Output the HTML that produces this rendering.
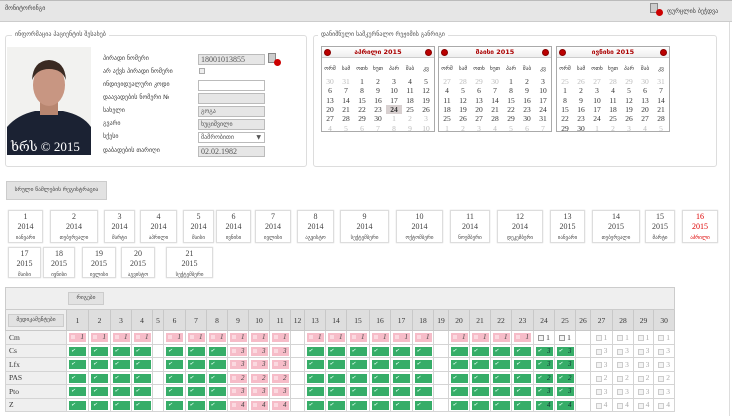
<!DOCTYPE html>
<html><head><meta charset="utf-8">
<style>
*{box-sizing:border-box;margin:0;padding:0}
body{width:732px;height:416px;background:#fff;position:relative;overflow:hidden;font-family:"DejaVu Sans","Liberation Sans",sans-serif;color:#333}
.a{position:absolute}
.g{font-family:"DejaVu Sans",sans-serif;font-size:6px;color:#444;white-space:nowrap}
.fs{position:absolute;border:1px solid #ddd;border-radius:3px}
.lg{position:absolute;top:-5px;background:#fff;padding:0 3px;font-size:6px;color:#555;white-space:nowrap}
.inp{position:absolute;left:198px;width:67px;height:11px;border:1px solid #bbb;background:#e6e6e6;font-family:"Liberation Serif",serif;font-size:8px;line-height:9px;padding-left:2px;color:#555}
.lbl{position:absolute;left:103px;font-size:6px;color:#444;white-space:nowrap}
.cal{position:absolute;top:46px;width:114px;height:86px;border:1px solid #aaa;background:#fff}
.ch{height:11px;background:linear-gradient(#fff,#eee);border-bottom:1px solid #ccc;text-align:center;font-family:"DejaVu Sans",sans-serif;font-size:6.5px;font-weight:bold;color:#a00;line-height:11px;position:relative}
.ch i{position:absolute;top:2px;width:7px;height:7px;border-radius:50%;background:#b00;border:1px solid #800}
.cal table{border-collapse:collapse;width:112px;margin-top:3px}
.cal td{width:16px;text-align:center;font-family:"Liberation Serif",serif;font-size:7.5px;height:9.3px;line-height:9px;color:#333}
.cal tr.w td{font-family:"DejaVu Sans",sans-serif;font-size:5.5px;height:16px;color:#333}
.cal td.o{color:#bbb}
.cal td.s{background:#d8d0d0;font-weight:bold}
.mt{position:absolute;border:1px solid #ddd;text-align:center;font-family:"Liberation Serif",serif;font-size:8px;line-height:10px;color:#444;padding-top:1px;box-shadow:0 0 1px #ccc}
.mt span{font-family:"DejaVu Sans",sans-serif;font-size:5px}
.mt.r{color:#d00}
table.t{position:absolute;left:5px;top:287px;border-collapse:collapse;table-layout:fixed;width:670px}
table.t td{border:1px solid #d4d4d4;padding:0;font-family:"Liberation Serif",serif;font-size:7.5px;text-align:center;overflow:hidden}
table.t tr.h td{background:#dedede;height:21px;border-color:#c8c8c8}
table.t tr.d td{height:13.5px}
table.t tr.d td.l{background:#efefef;text-align:left;padding-left:3px;color:#333}
.p,.gr{display:inline-block;width:17px;height:9px;vertical-align:middle;position:relative;text-align:right;padding-right:2px;font-size:7px;line-height:9px;color:#444}
.p{background:#f6bcc8}
.p:before{content:"";position:absolute;left:2px;top:2px;width:4px;height:4px;background:#fbd9e0}
.gr{background:#36ad68;color:#133}
.gr:before{content:"✔";position:absolute;left:2px;top:0;font-size:5px;color:#dfe}
.cb{display:inline-block;width:6px;height:6px;border:1px solid #999;background:#f4f4f4;vertical-align:middle;margin-right:2px}
.f{color:#aaa}.f .cb{border-color:#ccc}
.btn{position:absolute;background:#e2e2e2;border:1px solid #ccc;font-size:5.5px;color:#444;white-space:nowrap;text-align:center}
</style></head><body>
<div class="a" style="left:0;top:0;width:732px;height:22px;background:#e6e6e6;border-bottom:1px solid #ccc;border-top:1px solid #bbb"></div>
<div class="a g" style="left:5px;top:5px">მონიტორინგი</div>
<div class="a" style="left:650px;top:3px;width:8px;height:10px;border:1px solid #888;background:#ccc"></div>
<div class="a" style="left:656px;top:9px;width:7px;height:7px;border-radius:50%;background:#c00"></div>
<div class="a g" style="left:667px;top:8px">ფურცლის ბეჭდვა</div>
<div class="a" style="left:729px;top:22px;width:1px;height:394px;background:#ddd"></div>

<div class="fs" style="left:5px;top:35px;width:302px;height:132px"><div class="lg" style="left:6px">ინფორმაცია პაციენტის შესახებ</div></div>
<svg class="a" style="left:7px;top:47px" width="84" height="108" viewBox="0 0 84 108">
<rect width="84" height="108" fill="#f2f2f0"/>
<path d="M0 108 L0 80 Q10 68 28 64 L56 64 Q76 68 84 80 L84 108Z" fill="#1b2233"/>
<rect x="33" y="54" width="18" height="14" fill="#b88670"/>
<ellipse cx="42" cy="38" rx="16" ry="21" fill="#c89682"/>
<path d="M25 33 Q26 14 42 13 Q58 14 59 33 Q55 22 42 22 Q30 22 25 33Z" fill="#3a2a22"/>
<text x="4" y="104" font-family="Liberation Serif,DejaVu Serif,serif" font-size="13" fill="#fff">ხრს © 2015</text>
</svg>
<div class="lbl" style="top:55px">პირადი ნომერი</div>
<div class="lbl" style="top:68px">არ აქვს პირადი ნომერი</div>
<div class="lbl" style="top:81px">ინდივიდუალური კოდი</div>
<div class="lbl" style="top:94px">დაავადების ნომერი №</div>
<div class="lbl" style="top:107px">სახელი</div>
<div class="lbl" style="top:120px">გვარი</div>
<div class="lbl" style="top:133px">სქესი</div>
<div class="lbl" style="top:147px">დაბადების თარიღი</div>
<div class="inp" style="top:54px">18001013855</div>
<div class="a" style="left:268px;top:53px;width:8px;height:10px;border:1px solid #888;background:#ccc"></div>
<div class="a" style="left:274px;top:59px;width:7px;height:7px;border-radius:50%;background:#c00"></div>
<div class="a" style="left:199px;top:68px;width:6px;height:6px;border:1px solid #aaa;background:#eee"></div>
<div class="inp" style="top:80px;background:#fff"></div>
<div class="inp" style="top:93px"></div>
<div class="inp" style="top:106px;font-family:'DejaVu Sans';font-size:6px">გოგა</div>
<div class="inp" style="top:119px;font-family:'DejaVu Sans';font-size:6px">ხუციშვილი</div>
<div class="inp" style="top:132px;background:#fff;font-family:'DejaVu Sans';font-size:6px">მამრობითი<span style="position:absolute;right:3px;font-size:6px">▼</span></div>
<div class="inp" style="top:146px">02.02.1982</div>

<div class="fs" style="left:313px;top:35px;width:404px;height:132px"><div class="lg" style="left:4px">დანიშნული სამკურნალო რეჟიმის განრიგი</div></div>

<div class="cal" style="left:321px"><div class="ch"><i style="left:2px"></i>აპრილი 2015<i style="right:2px"></i></div>
<table><tr class="w"><td>ორშ</td><td>სამ</td><td>ოთხ</td><td>ხუთ</td><td>პარ</td><td>შაბ</td><td>კვ</td></tr>
<tr><td class="o">30</td><td class="o">31</td><td>1</td><td>2</td><td>3</td><td>4</td><td>5</td></tr>
<tr><td>6</td><td>7</td><td>8</td><td>9</td><td>10</td><td>11</td><td>12</td></tr>
<tr><td>13</td><td>14</td><td>15</td><td>16</td><td>17</td><td>18</td><td>19</td></tr>
<tr><td>20</td><td>21</td><td>22</td><td>23</td><td class="s">24</td><td>25</td><td>26</td></tr>
<tr><td>27</td><td>28</td><td>29</td><td>30</td><td class="o">1</td><td class="o">2</td><td class="o">3</td></tr>
<tr><td class="o">4</td><td class="o">5</td><td class="o">6</td><td class="o">7</td><td class="o">8</td><td class="o">9</td><td class="o">10</td></tr></table></div>

<div class="cal" style="left:438px"><div class="ch"><i style="left:2px"></i>მაისი 2015<i style="right:2px"></i></div>
<table><tr class="w"><td>ორშ</td><td>სამ</td><td>ოთხ</td><td>ხუთ</td><td>პარ</td><td>შაბ</td><td>კვ</td></tr>
<tr><td class="o">27</td><td class="o">28</td><td class="o">29</td><td class="o">30</td><td>1</td><td>2</td><td>3</td></tr>
<tr><td>4</td><td>5</td><td>6</td><td>7</td><td>8</td><td>9</td><td>10</td></tr>
<tr><td>11</td><td>12</td><td>13</td><td>14</td><td>15</td><td>16</td><td>17</td></tr>
<tr><td>18</td><td>19</td><td>20</td><td>21</td><td>22</td><td>23</td><td>24</td></tr>
<tr><td>25</td><td>26</td><td>27</td><td>28</td><td>29</td><td>30</td><td>31</td></tr>
<tr><td class="o">1</td><td class="o">2</td><td class="o">3</td><td class="o">4</td><td class="o">5</td><td class="o">6</td><td class="o">7</td></tr></table></div>

<div class="cal" style="left:556px"><div class="ch"><i style="left:2px"></i>ივნისი 2015<i style="right:2px"></i></div>
<table><tr class="w"><td>ორშ</td><td>სამ</td><td>ოთხ</td><td>ხუთ</td><td>პარ</td><td>შაბ</td><td>კვ</td></tr>
<tr><td class="o">25</td><td class="o">26</td><td class="o">27</td><td class="o">28</td><td class="o">29</td><td class="o">30</td><td class="o">31</td></tr>
<tr><td>1</td><td>2</td><td>3</td><td>4</td><td>5</td><td>6</td><td>7</td></tr>
<tr><td>8</td><td>9</td><td>10</td><td>11</td><td>12</td><td>13</td><td>14</td></tr>
<tr><td>15</td><td>16</td><td>17</td><td>18</td><td>19</td><td>20</td><td>21</td></tr>
<tr><td>22</td><td>23</td><td>24</td><td>25</td><td>26</td><td>27</td><td>28</td></tr>
<tr><td>29</td><td>30</td><td class="o">1</td><td class="o">2</td><td class="o">3</td><td class="o">4</td><td class="o">5</td></tr></table></div>

<div class="btn" style="left:6px;top:181px;width:101px;height:19px;line-height:17px">სრული წამლების რეგისტრაცია</div>

<div class="mt" style="left:8px;top:210px;width:35px;height:33px">1<br>2014<br><span>იანვარი</span></div>
<div class="mt" style="left:50px;top:210px;width:48px;height:33px">2<br>2014<br><span>თებერვალი</span></div>
<div class="mt" style="left:104px;top:210px;width:31px;height:33px">3<br>2014<br><span>მარტი</span></div>
<div class="mt" style="left:140px;top:210px;width:37px;height:33px">4<br>2014<br><span>აპრილი</span></div>
<div class="mt" style="left:183px;top:210px;width:31px;height:33px">5<br>2014<br><span>მაისი</span></div>
<div class="mt" style="left:216px;top:210px;width:35px;height:33px">6<br>2014<br><span>ივნისი</span></div>
<div class="mt" style="left:255px;top:210px;width:36px;height:33px">7<br>2014<br><span>ივლისი</span></div>
<div class="mt" style="left:297px;top:210px;width:37px;height:33px">8<br>2014<br><span>აგვისტო</span></div>
<div class="mt" style="left:340px;top:210px;width:49px;height:33px">9<br>2014<br><span>სექტემბერი</span></div>
<div class="mt" style="left:396px;top:210px;width:47px;height:33px">10<br>2014<br><span>ოქტომბერი</span></div>
<div class="mt" style="left:450px;top:210px;width:40px;height:33px">11<br>2014<br><span>ნოემბერი</span></div>
<div class="mt" style="left:497px;top:210px;width:46px;height:33px">12<br>2014<br><span>დეკემბერი</span></div>
<div class="mt" style="left:550px;top:210px;width:35px;height:33px">13<br>2015<br><span>იანვარი</span></div>
<div class="mt" style="left:592px;top:210px;width:48px;height:33px">14<br>2015<br><span>თებერვალი</span></div>
<div class="mt" style="left:645px;top:210px;width:30px;height:33px">15<br>2015<br><span>მარტი</span></div>
<div class="mt r" style="left:682px;top:210px;width:36px;height:33px">16<br>2015<br><span>აპრილი</span></div>
<div class="mt" style="left:8px;top:247px;width:33px;height:31px">17<br>2015<br><span>მაისი</span></div>
<div class="mt" style="left:43px;top:247px;width:32px;height:31px">18<br>2015<br><span>ივნისი</span></div>
<div class="mt" style="left:82px;top:247px;width:34px;height:31px">19<br>2015<br><span>ივლისი</span></div>
<div class="mt" style="left:121px;top:247px;width:34px;height:31px">20<br>2015<br><span>აგვისტო</span></div>
<div class="mt" style="left:166px;top:247px;width:47px;height:31px">21<br>2015<br><span>სექტემბერი</span></div>

<table class="t">
<colgroup><col style="width:61px"><col style="width:22px"><col style="width:22px"><col style="width:21px"><col style="width:21px"><col style="width:11px"><col style="width:22px"><col style="width:21px"><col style="width:21px"><col style="width:21px"><col style="width:21px"><col style="width:21px"><col style="width:14px"><col style="width:21px"><col style="width:21px"><col style="width:23px"><col style="width:21px"><col style="width:22px"><col style="width:21px"><col style="width:15px"><col style="width:21px"><col style="width:21px"><col style="width:21px"><col style="width:22px"><col style="width:21px"><col style="width:21px"><col style="width:15px"><col style="width:22px"><col style="width:21px"><col style="width:20px"><col style="width:21px"></colgroup>
<tr><td colspan="31" style="height:22px;background:#efefef;text-align:left;border-color:#ccc"><span class="btn" style="position:relative;display:inline-block;left:62px;width:36px;height:13px;line-height:11px">რიგები</span></td></tr>
<tr class="h"><td style="background:#efefef"><span class="btn" style="position:relative;display:inline-block;width:56px;height:13px;line-height:11px">მედიკამენტები</span></td><td>1</td><td>2</td><td>3</td><td>4</td><td>5</td><td>6</td><td>7</td><td>8</td><td>9</td><td>10</td><td>11</td><td>12</td><td>13</td><td>14</td><td>15</td><td>16</td><td>17</td><td>18</td><td>19</td><td>20</td><td>21</td><td>22</td><td>23</td><td>24</td><td>25</td><td>26</td><td>27</td><td>28</td><td>29</td><td>30</td></tr>
<tr class="d"><td class="l">Cm</td><td><i class="p">1</i></td><td><i class="p">1</i></td><td><i class="p">1</i></td><td><i class="p">1</i></td><td></td><td><i class="p">1</i></td><td><i class="p">1</i></td><td><i class="p">1</i></td><td><i class="p">1</i></td><td><i class="p">1</i></td><td><i class="p">1</i></td><td></td><td><i class="p">1</i></td><td><i class="p">1</i></td><td><i class="p">1</i></td><td><i class="p">1</i></td><td><i class="p">1</i></td><td><i class="p">1</i></td><td></td><td><i class="p">1</i></td><td><i class="p">1</i></td><td><i class="p">1</i></td><td><i class="p">1</i></td><td><i class="cb"></i>1</td><td><i class="cb"></i>1</td><td></td><td class="f"><i class="cb"></i>1</td><td class="f"><i class="cb"></i>1</td><td class="f"><i class="cb"></i>1</td><td class="f"><i class="cb"></i>1</td></tr>
<tr class="d"><td class="l">Cs</td><td><i class="gr"></i></td><td><i class="gr"></i></td><td><i class="gr"></i></td><td><i class="gr"></i></td><td></td><td><i class="gr"></i></td><td><i class="gr"></i></td><td><i class="gr"></i></td><td><i class="p">3</i></td><td><i class="p">3</i></td><td><i class="p">3</i></td><td></td><td><i class="gr"></i></td><td><i class="gr"></i></td><td><i class="gr"></i></td><td><i class="gr"></i></td><td><i class="gr"></i></td><td><i class="gr"></i></td><td></td><td><i class="gr"></i></td><td><i class="gr"></i></td><td><i class="gr"></i></td><td><i class="gr"></i></td><td><i class="gr">3</i></td><td><i class="gr">3</i></td><td></td><td class="f"><i class="cb"></i>3</td><td class="f"><i class="cb"></i>3</td><td class="f"><i class="cb"></i>3</td><td class="f"><i class="cb"></i>3</td></tr>
<tr class="d"><td class="l">Lfx</td><td><i class="gr"></i></td><td><i class="gr"></i></td><td><i class="gr"></i></td><td><i class="gr"></i></td><td></td><td><i class="gr"></i></td><td><i class="gr"></i></td><td><i class="gr"></i></td><td><i class="p">3</i></td><td><i class="p">3</i></td><td><i class="p">3</i></td><td></td><td><i class="gr"></i></td><td><i class="gr"></i></td><td><i class="gr"></i></td><td><i class="gr"></i></td><td><i class="gr"></i></td><td><i class="gr"></i></td><td></td><td><i class="gr"></i></td><td><i class="gr"></i></td><td><i class="gr"></i></td><td><i class="gr"></i></td><td><i class="gr">3</i></td><td><i class="gr">3</i></td><td></td><td class="f"><i class="cb"></i>3</td><td class="f"><i class="cb"></i>3</td><td class="f"><i class="cb"></i>3</td><td class="f"><i class="cb"></i>3</td></tr>
<tr class="d"><td class="l">PAS</td><td><i class="gr"></i></td><td><i class="gr"></i></td><td><i class="gr"></i></td><td><i class="gr"></i></td><td></td><td><i class="gr"></i></td><td><i class="gr"></i></td><td><i class="gr"></i></td><td><i class="p">2</i></td><td><i class="p">2</i></td><td><i class="p">2</i></td><td></td><td><i class="gr"></i></td><td><i class="gr"></i></td><td><i class="gr"></i></td><td><i class="gr"></i></td><td><i class="gr"></i></td><td><i class="gr"></i></td><td></td><td><i class="gr"></i></td><td><i class="gr"></i></td><td><i class="gr"></i></td><td><i class="gr"></i></td><td><i class="gr">2</i></td><td><i class="gr">2</i></td><td></td><td class="f"><i class="cb"></i>2</td><td class="f"><i class="cb"></i>2</td><td class="f"><i class="cb"></i>2</td><td class="f"><i class="cb"></i>2</td></tr>
<tr class="d"><td class="l">Pto</td><td><i class="gr"></i></td><td><i class="gr"></i></td><td><i class="gr"></i></td><td><i class="gr"></i></td><td></td><td><i class="gr"></i></td><td><i class="gr"></i></td><td><i class="gr"></i></td><td><i class="p">3</i></td><td><i class="p">3</i></td><td><i class="p">3</i></td><td></td><td><i class="gr"></i></td><td><i class="gr"></i></td><td><i class="gr"></i></td><td><i class="gr"></i></td><td><i class="gr"></i></td><td><i class="gr"></i></td><td></td><td><i class="gr"></i></td><td><i class="gr"></i></td><td><i class="gr"></i></td><td><i class="gr"></i></td><td><i class="gr">3</i></td><td><i class="gr">3</i></td><td></td><td class="f"><i class="cb"></i>3</td><td class="f"><i class="cb"></i>3</td><td class="f"><i class="cb"></i>3</td><td class="f"><i class="cb"></i>3</td></tr>
<tr class="d"><td class="l">Z</td><td><i class="gr"></i></td><td><i class="gr"></i></td><td><i class="gr"></i></td><td><i class="gr"></i></td><td></td><td><i class="gr"></i></td><td><i class="gr"></i></td><td><i class="gr"></i></td><td><i class="p">4</i></td><td><i class="p">4</i></td><td><i class="p">4</i></td><td></td><td><i class="gr"></i></td><td><i class="gr"></i></td><td><i class="gr"></i></td><td><i class="gr"></i></td><td><i class="gr"></i></td><td><i class="gr"></i></td><td></td><td><i class="gr"></i></td><td><i class="gr"></i></td><td><i class="gr"></i></td><td><i class="gr"></i></td><td><i class="gr">4</i></td><td><i class="gr">4</i></td><td></td><td class="f"><i class="cb"></i>4</td><td class="f"><i class="cb"></i>4</td><td class="f"><i class="cb"></i>4</td><td class="f"><i class="cb"></i>4</td></tr>
</table>
</body></html>
